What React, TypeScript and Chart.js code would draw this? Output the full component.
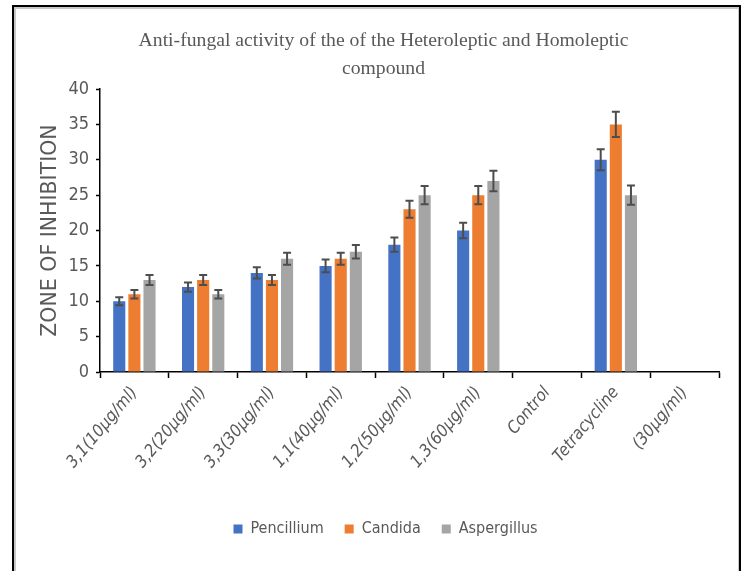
import React, { useEffect, useRef } from "react";
import { Chart, registerables } from "chart.js";

Chart.register(...registerables);

const categories = [
  "3,1(10µg/ml)",
  "3,2(20µg/ml)",
  "3,3(30µg/ml)",
  "1,1(40µg/ml)",
  "1,2(50µg/ml)",
  "1,3(60µg/ml)",
  "Control",
  "Tetracycline",
  "(30µg/ml)",
];

const pencillium = [10, 12, 14, 15, 18, 20, null, 30, null];
const candida = [11, 13, 13, 16, 23, 25, null, 35, null];
const aspergillus = [13, 11, 16, 17, 25, 27, null, 25, null];

const pencilliumErr = [0.55, 0.65, 0.8, 0.9, 1.0, 1.1, null, 1.5, null];
const candidaErr = [0.6, 0.7, 0.7, 0.85, 1.2, 1.3, null, 1.8, null];
const aspergillusErr = [0.7, 0.6, 0.85, 0.95, 1.3, 1.45, null, 1.35, null];

const yTicks = [0, 5, 10, 15, 20, 25, 30, 35, 40];

const titleLines = [
  "Anti-fungal activity of the of the Heteroleptic and Homoleptic",
  "compound",
];
const yTitle = "ZONE OF INHIBITION";

const TEXT = "#595959";
const SANS = "'DejaVu Sans Condensed', 'Liberation Sans', sans-serif";

const frame = {
  id: "frame",
  beforeDraw(chart: any) {
    const ctx = chart.ctx;
    ctx.save();
    ctx.fillStyle = "#ffffff";
    ctx.fillRect(0, 0, chart.width, chart.height);
    ctx.strokeStyle = "#c8c8c8";
    ctx.lineWidth = 2;
    ctx.strokeRect(15, 8, 724, chart.height + 20);
    ctx.strokeStyle = "#000000";
    ctx.lineWidth = 2;
    ctx.strokeRect(13, 6, 727, chart.height + 20);
    ctx.restore();
  },
};

const blockShift = {
  id: "blockShift",
  afterLayout(chart: any) {
    const l = chart.legend;
    if (l) {
      l.left += 26;
      l.right += 26;
    }
    const t = chart.titleBlock;
    if (t) {
      t.left += 24;
      t.right += 24;
    }
  },
};

const errorBars = {
  id: "errorBars",
  afterDatasetsDraw(chart: any) {
    const ctx = chart.ctx;
    const yScale = chart.scales.y;
    chart.data.datasets.forEach((ds: any, i: number) => {
      const meta = chart.getDatasetMeta(i);
      const errs: (number | null)[] = ds.errors || [];
      meta.data.forEach((bar: any, j: number) => {
        const v = ds.data[j];
        const e = errs[j];
        if (v == null || !e) return;
        const x = bar.x;
        const yt = yScale.getPixelForValue(v + e);
        const yb = yScale.getPixelForValue(v - e);
        ctx.save();
        ctx.strokeStyle = "#4d4d4d";
        ctx.lineWidth = 2;
        ctx.beginPath();
        ctx.moveTo(x, yt);
        ctx.lineTo(x, yb);
        ctx.moveTo(x - 4, yt);
        ctx.lineTo(x + 4, yt);
        ctx.moveTo(x - 4, yb);
        ctx.lineTo(x + 4, yb);
        ctx.stroke();
        ctx.restore();
      });
    });
  },
};

export default function App() {
  const ref = useRef<HTMLCanvasElement | null>(null);

  useEffect(() => {
    if (!ref.current) return;
    const chart = new Chart(ref.current, {
      type: "bar",
      data: {
        labels: categories,
        datasets: [
          { label: "Pencillium", data: pencillium, backgroundColor: "#4472C4", errors: pencilliumErr } as any,
          { label: "Candida", data: candida, backgroundColor: "#ED7D31", errors: candidaErr } as any,
          { label: "Aspergillus", data: aspergillus, backgroundColor: "#A5A5A5", errors: aspergillusErr } as any,
        ],
      },
      options: {
        responsive: false,
        animation: false,
        devicePixelRatio: 1,
        datasets: { bar: { categoryPercentage: 0.66, barPercentage: 0.8 } },
        layout: { padding: { left: 0, right: 27, top: 0, bottom: 24 } },
        plugins: {
          title: {
            display: true,
            text: titleLines,
            color: TEXT,
            font: { family: "'Liberation Serif', serif", size: 19.7, weight: "normal", lineHeight: "28px" },
            padding: { top: 27, bottom: 6 },
          },
          legend: {
            position: "bottom",
            labels: {
              color: TEXT,
              boxWidth: 9,
              boxHeight: 9,
              padding: 21,
              font: { family: SANS, size: 16 },
            },
          },
          tooltip: { enabled: false },
        },
        scales: {
          x: {
            grid: { display: true, drawOnChartArea: false, offset: true, tickLength: 6, color: "#000", tickWidth: 1.5 },
            border: { display: true, color: "#000", width: 1.5 },
            ticks: {
              color: TEXT,
              minRotation: 50,
              maxRotation: 50,
              autoSkip: false,
              padding: 5,
              font: { family: SANS, size: 17, style: "italic" },
            },
            afterFit: (s: any) => {
              s.height = 128;
            },
          },
          y: {
            min: 0,
            max: 40,
            afterBuildTicks: (s: any) => {
              s.ticks = yTicks.map((v) => ({ value: v }));
            },
            grid: { display: true, drawOnChartArea: false, tickLength: 4, color: "#000", tickWidth: 1.5 },
            border: { display: true, color: "#000", width: 1.5 },
            ticks: {
              color: TEXT,
              padding: 7,
              font: { family: SANS, size: 18 },
            },
            title: {
              display: true,
              text: yTitle,
              color: TEXT,
              font: { family: "'DejaVu Sans', sans-serif", size: 20.5 },
              padding: { top: 38, bottom: 0 },
            },
            afterFit: (s: any) => {
              s.width = 100;
            },
          },
        },
      } as any,
      plugins: [frame, blockShift, errorBars],
    });
    return () => chart.destroy();
  }, []);

  return (
    <div style={{ position: "absolute", left: 0, top: 0, width: 746, height: 571 }}>
      <canvas ref={ref} width={746} height={571} style={{ display: "block" }} />
    </div>
  );
}
